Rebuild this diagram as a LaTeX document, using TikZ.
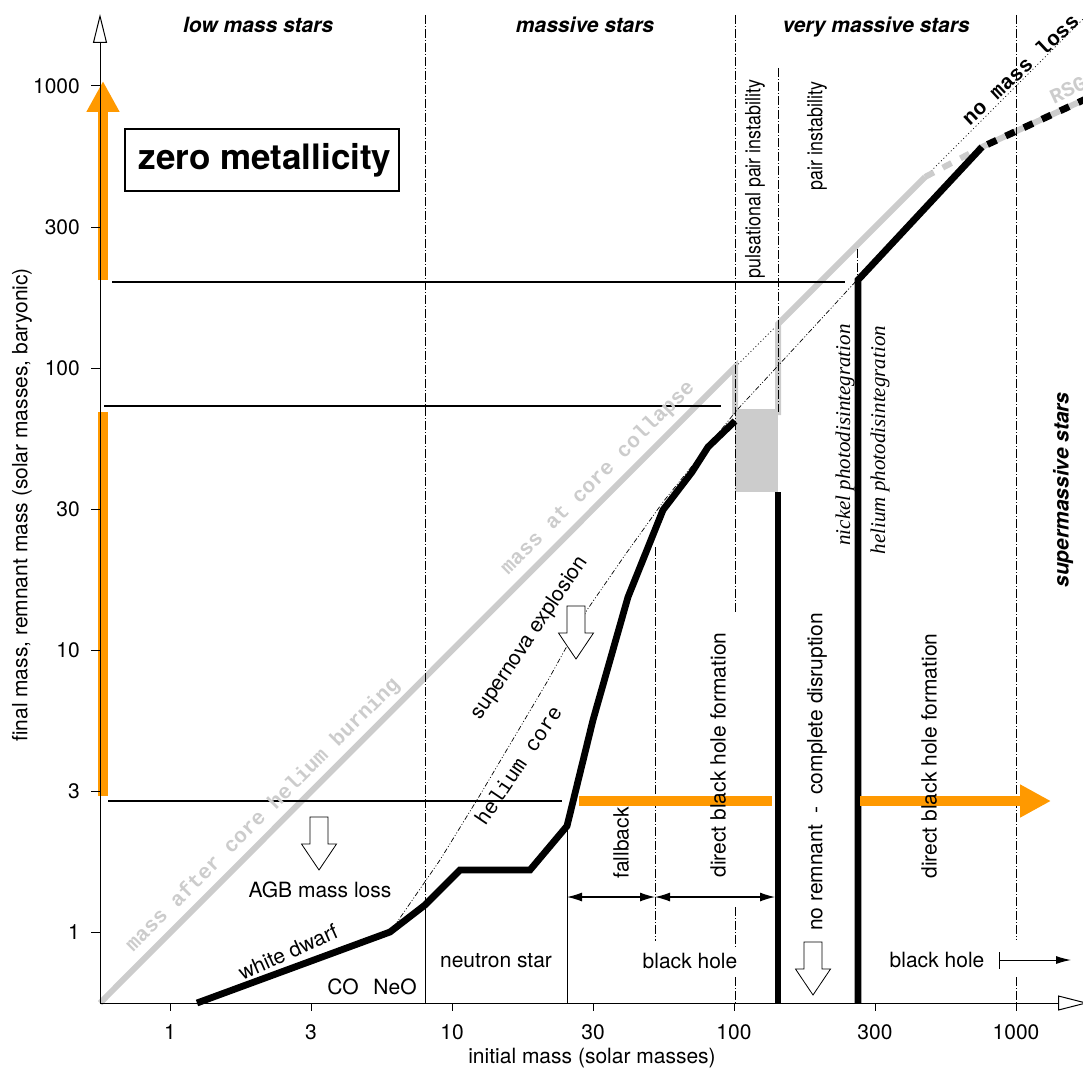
\documentclass[tikz,border=0pt]{standalone}
\usepackage{fontspec}
\setmainfont{TeX Gyre Heros}
\setsansfont{TeX Gyre Heros}
\newfontfamily\narrowfont[FakeStretch=0.85]{TeX Gyre Heros}
\newfontfamily\codefont{Liberation Mono}
\newfontfamily\photofont{Liberation Serif}
\usetikzlibrary{arrows.meta,positioning}
\definecolor{burnorange}{RGB}{255,153,0}
\definecolor{coregrey}{RGB}{204,204,204}

\begin{document}
\begin{tikzpicture}[x=1pt,y=-1pt,
    every node/.style={font=\fontsize{21}{24}\selectfont, inner sep=0pt},
    axisline/.style={line width=1pt},
    regionline/.style={line width=0.7pt, dash pattern=on 9pt off 2pt on 1pt off 2pt},
    coreline/.style={line width=0.7pt, dash pattern=on 5pt off 2pt on 1pt off 2pt on 1pt off 2pt},
    limitline/.style={line width=1.4pt},
    remnant/.style={line width=6.8pt},
    coremass/.style={line width=6pt, draw=coregrey},
    burnbar/.style={line width=10pt, draw=burnorange},
    hollowarrow/.style={draw, fill=white, line width=0.8pt},
    regime/.style={font=\fontsize{21}{24}\selectfont\bfseries\itshape},
    vertlabel/.style={rotate=90},
    narrowlabel/.style={font=\fontsize{21}{24}\selectfont\narrowfont},
    photolabel/.style={font=\fontsize{21}{24}\selectfont\photofont\itshape},
    monolabel/.style={font=\fontsize{21}{24}\selectfont\codefont\bfseries},
    massspan/.style={line width=1.1pt, {Latex[length=15pt,width=9pt]}-{Latex[length=15pt,width=9pt]}}
  ]
\useasboundingbox (0,0) rectangle (1083,1070);

% no mass loss and mass at core collapse
\draw[line width=0.7pt, dash pattern=on 1pt off 2.5pt] (100,1003) -- (1083,19);
\draw[coremass] (100,1003) -- (735,367) -- (735,412) -- (778,412) -- (778,324) -- (925,177);
\fill[coregrey] (735,412) rectangle (778,492);
\draw[coremass, dash pattern=on 10pt off 10pt] (925,177) -- (982,147) -- (1090,97);

% region boundaries
\draw[regionline] (425,15) -- (425,905);
\draw[line width=0.8pt] (425,905) -- (425,1003);
\draw[line width=0.8pt] (567,826) -- (567,1003);
\draw[regionline] (655,547) -- (655,941);
\draw[regionline] (735,15) -- (735,613);
\draw[regionline] (735,907) -- (735,947);
\draw[regionline] (735,977) -- (735,1003);
\draw[regionline] (778,68) -- (778,412);
\draw[regionline] (857,249) -- (857,280);
\draw[regionline] (1016,15) -- (1016,940);
\draw[regionline] (1016,977) -- (1016,1003);

% helium core
\draw[coreline] (393,928) -- (440,860) -- (480,795) -- (547,682) -- (587,610) -- (625,555)
  -- (663,502) -- (692,466) -- (737,410) -- (800,342) -- (857,280);

% remnant mass
\draw[remnant] (197,1003) -- (390,932) -- (425,905) -- (460,870) -- (530,870) -- (567,826)
  -- (593,720) -- (628,597) -- (663,510) -- (692,472) -- (708,447) -- (735,421);
\draw[remnant] (778,492) -- (778,1003);
\draw[remnant] (858,1003) -- (858,280) -- (982,147);
\draw[remnant, dash pattern=on 10pt off 10pt, dash phase=14pt] (982,147) -- (1090,97);

% limits
\draw[limitline] (112,282) -- (845,282);
\draw[limitline] (104,406) -- (721,406);
\draw[limitline] (108,801) -- (562,801);

% orange bars
\draw[burnbar, -{Triangle[length=31pt,width=31pt]}] (103,280) -- (103,81);
\draw[burnbar] (103,412) -- (103,796);
\draw[burnbar] (579,801) -- (772,801);
\draw[burnbar, -{Triangle[length=31pt,width=31pt]}] (860,801) -- (1051,801);

% axes
\draw[axisline, -{Triangle[open,length=29pt,width=14pt]}] (100,1003) -- (100,14);
\draw[axisline, -{Triangle[open,length=30pt,width=15pt]}] (100,1003) -- (1088,1003);
\foreach \px/\lab in {170/1, 311/3, 452/10, 593/30, 734/100, 875/300, 1016/1000} {
  \draw[axisline] (\px,1003) -- (\px,1011);
  \node (xt\lab) at (\px,1032) {\lab};
}
\foreach \py/\lab in {932/1, 791/3, 650/10, 509/30, 368/100, 227/300, 86/1000} {
  \draw[axisline] (91,\py) -- (100,\py);
  \node[anchor=east] (yt\lab) at (80,\py) {\lab};
}
\node (xtitle) at (592,1058) {initial mass (solar masses)};
\node[vertlabel] (ytitle) at (22,505) {final mass, remnant mass (solar masses, baryonic)};

\node[draw, line width=1.2pt, minimum width=274pt, minimum height=62pt,
  font=\fontsize{35}{40}\selectfont\bfseries] (zerobox) at (262,160) {\raisebox{-2pt}{\hspace{6pt}zero metallicity}};

% headers
\node[regime, anchor=base] (lowmass) at (258,33) {low mass stars};
\node[regime, anchor=base] (massive) at (585,33) {massive stars};
\node[regime, anchor=base] (vmassive) at (876,33) {very massive stars};
\node[regime, vertlabel] (supermassive) at (1063,490) {supermassive stars};

% vertical labels
\node[narrowlabel, vertlabel] (pulsational) at (755,179) {pulsational pair instability};
\node[narrowlabel, vertlabel] (pairinst) at (817,136) {pair instability};
\node[photolabel, vertlabel] (nickel) at (845,435) {nickel photodisintegration};
\node[photolabel, vertlabel] (helium) at (880,440) {helium photodisintegration};
\node[vertlabel] (directbh) at (718,755) {direct black hole formation};
\node[vertlabel] (fallback) at (621,843) {fallback};
\node[vertlabel] (noremnant) at (817,772) {no remnant\ \ -\ \ complete disruption};
\node[vertlabel] (directbhb) at (929,756) {direct black hole formation};

% diagonal labels
\node[monolabel, text=coregrey, rotate=45] (afterburn) at (263,815) {mass after core helium burning};
\node[monolabel, text=coregrey, rotate=45] (atcollapse) at (598,478) {mass at core collapse};
\node[monolabel, rotate=43] (nomassloss) at (1020,69) {no mass loss};
\node[monolabel, text=coregrey, rotate=25] (rsg) at (1068,90) {RSG};
\node[font=\fontsize{21}{24}\selectfont\codefont, rotate=56] (hecore) at (518,765) {helium core};
\node[rotate=56] (snexpl) at (530,638) {supernova explosion};
\node[rotate=24] (wdwarf) at (288,952) {white dwarf};

% remnant labels
\node (agb) at (320,890) {AGB mass loss};
\node (co) at (343,987) {CO};
\node (neo) at (395,987) {NeO};
\node (nstar) at (496,961) {neutron star};
\node (bhole) at (690,961) {black hole};
\node (bholeb) at (937,960) {black hole};
\coordinate (bhstart) at (999,960);
\coordinate (bhend) at (1071,960);
\draw[line width=1pt, {Bar[width=17pt]}-{Latex[length=15pt,width=8pt]}] (bhstart) -- (bhend);

\coordinate (fbstart) at (567,897);
\coordinate (fbmid) at (655,897);
\coordinate (fbend) at (775,897);
\draw[massspan] (fbstart) -- (fbmid);
\draw[massspan] (fbmid) -- (fbend);

% hollow arrows
\foreach \cx/\cy in {319/817, 576/606, 813/942}
  \draw[hollowarrow] (\cx-9,\cy) -- ++(18,0) -- ++(0,27) -- ++(8.5,0) -- (\cx,\cy+53)
    -- (\cx-17.5,\cy+27) -- ++(8.5,0) -- cycle;
\end{tikzpicture}
\end{document}
